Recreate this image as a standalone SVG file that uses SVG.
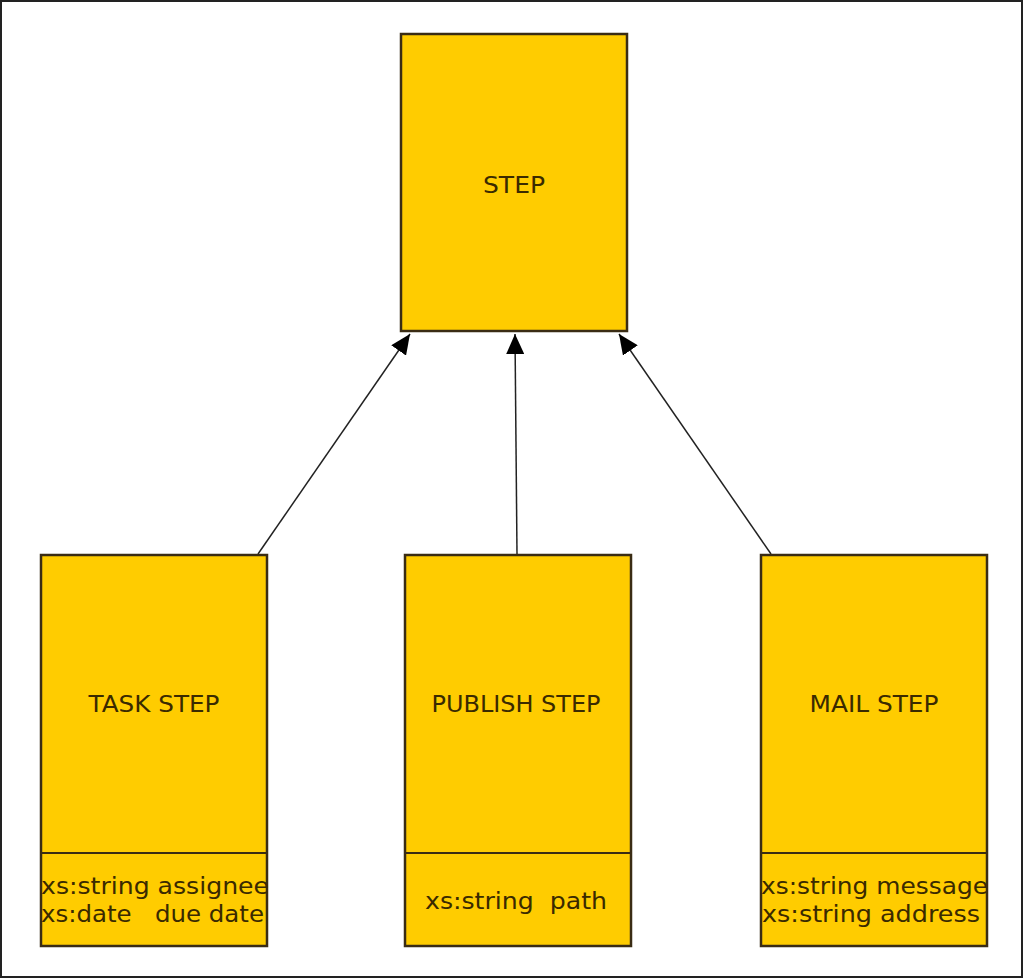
<svg xmlns="http://www.w3.org/2000/svg" width="1024" height="979" viewBox="0 0 1024 979">
<style>
.box{fill:#FFCC00;stroke:#3a2c14;stroke-width:2.5}
.t{font-family:"DejaVu Sans",sans-serif;font-size:23px;fill:#3a2a00;text-anchor:middle}
.a{font-family:"DejaVu Sans",sans-serif;font-size:23px;fill:#3a2a00}
.c{stroke:#222;stroke-width:1.5;fill:none}
.d{stroke:#3a2c14;stroke-width:2;fill:none}
</style>
<defs>
<marker id="arr" markerWidth="20" markerHeight="18" refX="20" refY="9" orient="auto" markerUnits="userSpaceOnUse" viewBox="0 0 20 18">
<path d="M0,0 L20,9 L0,18 Z" fill="#000"/>
</marker>
</defs>
<rect x="1" y="1" width="1021" height="976" fill="#fff" stroke="#222" stroke-width="2"/>
<g id="connectors">
<line class="c" x1="258" y1="554" x2="410" y2="334" marker-end="url(#arr)"/>
<line class="c" x1="517" y1="554" x2="515" y2="334" marker-end="url(#arr)"/>
<line class="c" x1="771" y1="554" x2="619" y2="334" marker-end="url(#arr)"/>
</g>
<g id="step">
<rect class="box" x="401" y="34" width="226" height="297"/>
<text class="t" x="514" y="193" textLength="62" lengthAdjust="spacingAndGlyphs">STEP</text>
</g>
<g id="task-step">
<rect class="box" x="41" y="555" width="226" height="391"/>
<line class="d" x1="41" y1="853" x2="267" y2="853"/>
<text class="t" x="154" y="712" textLength="131" lengthAdjust="spacingAndGlyphs">TASK STEP</text>
<text class="a" x="41" y="894" textLength="228" lengthAdjust="spacingAndGlyphs">xs:string assignee</text>
<text class="a" x="41" y="922" textLength="223" lengthAdjust="spacingAndGlyphs" xml:space="preserve">xs:date   due date</text>
</g>
<g id="publish-step">
<rect class="box" x="405" y="555" width="226" height="391"/>
<line class="d" x1="405" y1="853" x2="631" y2="853"/>
<text class="t" x="516" y="712" textLength="169" lengthAdjust="spacingAndGlyphs">PUBLISH STEP</text>
<text class="t" x="516" y="909" textLength="182" lengthAdjust="spacingAndGlyphs" xml:space="preserve">xs:string  path</text>
</g>
<g id="mail-step">
<rect class="box" x="761" y="555" width="226" height="391"/>
<line class="d" x1="761" y1="853" x2="987" y2="853"/>
<text class="t" x="874" y="712" textLength="129" lengthAdjust="spacingAndGlyphs">MAIL STEP</text>
<text class="a" x="761" y="894" textLength="227" lengthAdjust="spacingAndGlyphs">xs:string message</text>
<text class="a" x="762" y="922" textLength="218" lengthAdjust="spacingAndGlyphs">xs:string address</text>
</g>
</svg>
